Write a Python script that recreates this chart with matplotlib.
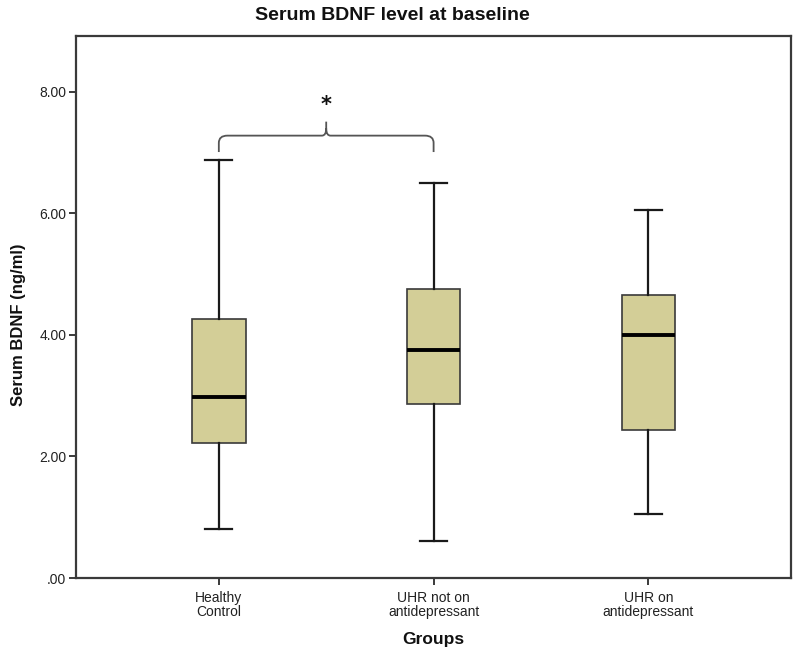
import matplotlib
matplotlib.use("Agg")
import matplotlib.pyplot as plt
from matplotlib.path import Path
from matplotlib.patches import PathPatch

# ---- data ----
groups = ["Healthy\nControl", "UHR not on\nantidepressant", "UHR on\nantidepressant"]
whisker_low = [0.81, 0.61, 1.06]
q1 = [2.22, 2.86, 2.44]
medians = [2.98, 3.76, 4.00]
q3 = [4.26, 4.75, 4.65]
whisker_high = [6.88, 6.50, 6.06]
ytick_values = [0, 2, 4, 6, 8]
ytick_labels = [".00", "2.00", "4.00", "6.00", "8.00"]

# significance bracket between group 1 and 2
bracket_groups = (1, 2)
bracket_leg_bottom = 7.01
bracket_level = 7.28
bracket_peak = 7.51
star_y = 7.62

FONT = ["Liberation Sans Narrow", "Liberation Sans", "DejaVu Sans"]
plt.rcParams["font.family"] = FONT

fig = plt.figure(figsize=(8.0, 6.54), dpi=100)
ax = fig.add_axes([0.095, 0.1162, 0.894, 0.8288])

stats = []
for i in range(len(groups)):
    stats.append(dict(whislo=whisker_low[i], q1=q1[i], med=medians[i],
                      q3=q3[i], whishi=whisker_high[i], fliers=[]))

positions = list(range(1, len(groups) + 1))
ax.bxp(stats, positions=positions, widths=0.25, patch_artist=True,
       showfliers=False,
       boxprops=dict(facecolor="#d3ce97", edgecolor="#3a3a3a", linewidth=1.2),
       medianprops=dict(color="black", linewidth=2.8),
       whiskerprops=dict(color="#1a1a1a", linewidth=1.6),
       capprops=dict(color="#1a1a1a", linewidth=1.6),
       capwidths=0.125)

ax.set_xlim(0.335, 3.665)
ax.set_ylim(0, 8.92)

ax.set_yticks(ytick_values)
ax.set_yticklabels(ytick_labels)
ax.set_xticks(positions)
ax.set_xticklabels(groups, linespacing=1.0)

for s in ax.spines.values():
    s.set_color("#3a3a3a")
    s.set_linewidth(1.6)

ax.tick_params(axis="both", direction="out", length=5, width=1.4,
               color="#3a3a3a", labelsize=10, labelcolor="#222222")
ax.tick_params(axis="x", pad=4)
ax.tick_params(axis="y", pad=2)

fig.text(0.49, 0.977, "Serum BDNF level at baseline", ha="center", va="center",
         fontsize=14, fontweight="bold", color="#111111")
ax.set_ylabel("Serum BDNF (ng/ml)", fontsize=12, fontweight="bold",
              color="#111111", family=["Liberation Sans", "DejaVu Sans"])
ax.yaxis.set_label_coords(-0.07, 0.467)
ax.set_xlabel("Groups", fontsize=12.5, fontweight="bold", labelpad=10,
              color="#111111", family=["Liberation Sans", "DejaVu Sans"])

# curly bracket
xa, xb = bracket_groups
xm = (xa + xb) / 2.0
dx = 0.04
dy = 0.12
verts = [
    (xa, bracket_leg_bottom), (xa, bracket_level - dy),
    (xa, bracket_level), (xa + dx, bracket_level),
    (xm - dx * 0.5, bracket_level),
    (xm, bracket_level), (xm, bracket_level + dy),
    (xm, bracket_peak),
    (xm, bracket_level + dy), (xm, bracket_level), (xm + dx * 0.5, bracket_level),
    (xb - dx, bracket_level),
    (xb, bracket_level), (xb, bracket_level - dy),
    (xb, bracket_leg_bottom),
]
codes = [
    Path.MOVETO, Path.LINETO,
    Path.CURVE3, Path.CURVE3,
    Path.LINETO,
    Path.CURVE3, Path.CURVE3,
    Path.LINETO,
    Path.MOVETO, Path.CURVE3, Path.CURVE3,
    Path.LINETO,
    Path.CURVE3, Path.CURVE3,
    Path.LINETO,
]
ax.add_patch(PathPatch(Path(verts, codes), facecolor="none",
                       edgecolor="#555555", linewidth=1.3))
ax.text(xm, star_y, "*", ha="center", va="bottom", fontsize=15,
        fontweight="bold", color="#111111", family=["DejaVu Sans"])

fig.savefig("out.png", dpi=100)
